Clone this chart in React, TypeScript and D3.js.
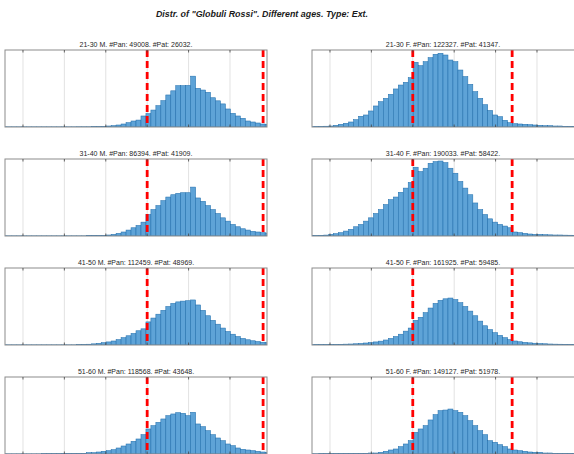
import React from 'react';
import * as d3 from 'd3';

// ---- data ----
const BIN_START = 2.745;
const BIN_WIDTH = 0.06;
const X_DOMAIN: [number, number] = [2.783, 5.947];
const GRID_TICKS = [3.0, 3.5, 4.0, 4.5, 5.0, 5.5];
const Y_MAX = 100;

const MAIN_TITLE = 'Distr. of "Globuli Rossi". Different ages. Type: Ext.';

const refMale = [4.5, 5.9];
const refFemale = [4.0, 5.2];

const titles = [
  '21-30 M. #Pan: 49008. #Pat: 26032.',
  '21-30 F. #Pan: 122327. #Pat: 41347.',
  '31-40 M. #Pan: 86394. #Pat: 41909.',
  '31-40 F. #Pan: 190033. #Pat: 58422.',
  '41-50 M. #Pan: 112459. #Pat: 48969.',
  '41-50 F. #Pan: 161925. #Pat: 59485.',
  '51-60 M. #Pan: 118568. #Pat: 43648.',
  '51-60 F. #Pan: 149127. #Pat: 51978.',
];

const m2130 = [0.2,0.2,0.2,0.2,0.2,0.2,0.2,0.2,0.2,0.2,0.2,0.2,0.2,0.2,0.2,0.3,0.3,0.3,0.5,0.5,0.8,
  1.3,1.7,2.6,3.9,5.6,7.8,9.0,14.3,
  17.3,22,27.7,34.2,41.6,47,53.7,53.7,54,66,
  50.2,48,45,38,34,30,23.4,17.7,14.3,11.3,7.8,6.5,5.2,3.9,3.5,3.0];

const f2130 = [0.3,0.4,0.6,1.0,
  1.3,2.2,3.5,4.8,6.5,9.5,13.9,15.6,20.8,27.3,32.9,37.2,42.4,49.4,54.5,58,64,
  84,79.7,84.8,90,94.4,95.7,93.5,87,84.8,74,
  65.4,55.4,45.9,37.2,29,21.5,15.6,13.4,8.7,5.6,
  4.3,3.9,3.5,3,2.6,2.2,1.7,1.7,1.3,1.3,
  0.9,0.9,0.8,0.6];

const m3140 = [0.2,0.2,0.2,0.2,0.2,0.2,0.2,0.2,0.2,0.2,0.2,0.2,0.2,0.2,0.2,0.2,0.2,
  0.9,0.9,0.9,0.9,
  1.3,2.1,3.4,5.2,7.7,10.7,13.7,18,
  27.9,34.3,39.5,45.9,50.6,53.6,55.4,56.2,56.2,63.5,
  49.4,45,39.5,34.3,29.2,23.6,19.3,15,12,9.4,7.7,6,5.2,4.3,3.8,3.4];

const f3140 = [0.5,0.6,0.8,1.2,
  2.1,3,4.3,6.4,8.6,12,15,19.3,23.6,29.2,34.3,40.8,47.2,50.6,56.7,62.2,69.5,
  89.3,83.7,88,94.4,96.6,97.4,95.3,88,81.5,70.8,
  62.2,53.6,42.9,34.3,27.9,22.3,18,15,12.9,10.7,
  5.2,4.3,3.4,2.6,2.1,2.1,1.7,1.5,1.3,1.3,
  1.1,1.0,0.9,0.8];

const m4150 = [0.2,0.2,0.2,0.2,0.2,0.2,0.2,0.2,0.2,0.2,0.2,0.2,0.2,0.2,0.2,
  0.4,0.6,1.0,1.5,2.2,3.0,
  4.0,5.2,7.0,9.5,12,15,18.5,21,
  30,35,40,45,50,54,56,57,57.5,58.5,
  52,45,38,32,27,22,17.5,14,11,8.5,6.8,5.5,4.5,3.6,3.0,2.6];

const f4150 = [0.3,0.4,0.5,0.6,0.7,0.8,
  0.9,1.1,1.3,1.6,2,2.6,3.2,4.0,5.0,6.5,8.5,11,14,18,22,
  32,36,42,48,54,58,60,61,59,55,
  50,44,38,31,25,20,16,12.5,9.5,7,
  5.2,4.2,3.4,2.8,2.3,1.9,1.6,1.3,1.1,1,
  0.9,0.8,0.7,0.7];

const m5160 = [0.2,0.2,0.2,0.2,0.2,0.2,0.2,0.2,
  0.4,0.4,0.4,0.4,0.9,0.9,0.9,0.9,0.9,
  1.7,1.7,2.6,3.5,
  4.3,5.6,7.8,10.4,13,16.5,19.5,25.1,
  32.5,36.8,41.1,45.5,49.8,52,53.7,52.8,49.8,54.1,
  39,35.5,30.3,25.1,20.8,17.3,13,10.8,7.8,6.1,5.2,4.3,3.5,2.6,2.2,2.0];

const f5160 = [0.3,0.3,0.4,0.5,0.6,0.7,0.8,
  0.9,0.9,0.9,0.9,0.9,1.3,1.3,2.2,3.5,5.2,6.5,9.5,13,17.3,
  28.1,32.5,36.8,44.2,51.1,56.3,57.1,58.4,56.3,54.1,
  49.8,43.3,36.8,30.3,25.1,17.3,15.2,12.1,9.5,6.5,
  5.2,4.3,3.5,2.6,2.2,2.2,1.3,1.3,0.9,0.9,
  0.8,0.8,0.7,0.7];

const panelCounts = [m2130, f2130, m3140, f3140, m4150, f4150, m5160, f5160];
const panelRanges = [refMale, refFemale, refMale, refFemale, refMale, refFemale, refMale, refFemale];

// ---- layout ----
const W = 574;
const H = 454;
const COL_X = [5, 312];
const FRAME_W = 262;
const ROW_TOP0 = 50;
const ROW_STEP = 109;
const FRAME_H = 77;

const xScale = d3.scaleLinear().domain(X_DOMAIN).range([0, FRAME_W]);
const yScale = d3.scaleLinear().domain([0, Y_MAX]).range([FRAME_H, 0]);

function Panel({ idx }: { idx: number }) {
  const col = idx % 2;
  const row = Math.floor(idx / 2);
  const x0 = COL_X[col];
  const y0 = ROW_TOP0 + row * ROW_STEP;
  const counts = panelCounts[idx];
  const range = panelRanges[idx];
  const frameW = col === 1 ? FRAME_W + 2 : FRAME_W;
  const clipId = `clip-${idx}`;
  return (
    <g transform={`translate(${x0},${y0})`}>
      <defs>
        <clipPath id={clipId}>
          <rect x={0} y={0} width={frameW} height={FRAME_H} />
        </clipPath>
      </defs>
      <text x={FRAME_W / 2} y={-2.6} textAnchor="middle" fontSize={7.0} fill="#262626">
        {titles[idx]}
      </text>
      <g clipPath={`url(#${clipId})`}>
        {GRID_TICKS.map((t) => (
          <line key={t} x1={xScale(t)} x2={xScale(t)} y1={0} y2={FRAME_H} stroke="#e2e2e2" strokeWidth={1} />
        ))}
        {counts.map((v, i) => {
          const a = BIN_START + i * BIN_WIDTH;
          const b = a + BIN_WIDTH;
          const xa = xScale(a);
          const xb = xScale(b);
          const yv = yScale(v);
          return (
            <rect key={i} x={xa} width={xb - xa} y={yv} height={FRAME_H - yv}
              fill="#5ea3d7" stroke="#2470ae" strokeWidth={0.55} />
          );
        })}
        {range.map((r) => (
          <line key={r} x1={xScale(r)} x2={xScale(r)} y1={0} y2={FRAME_H}
            stroke="#ff0000" strokeWidth={2.8} strokeDasharray="7,4" />
        ))}
      </g>
      <rect x={0} y={0} width={frameW} height={FRAME_H} fill="none" stroke="#8c8c8c" strokeWidth={1} />
      {GRID_TICKS.map((t) => (
        <g key={t}>
          <line x1={xScale(t)} x2={xScale(t)} y1={0} y2={2.5} stroke="#444" strokeWidth={0.8} />
          <line x1={xScale(t)} x2={xScale(t)} y1={FRAME_H - 2.5} y2={FRAME_H} stroke="#444" strokeWidth={0.8} />
        </g>
      ))}
    </g>
  );
}

export default function App() {
  return (
    <svg width={W} height={H} style={{ position: 'absolute', left: 0, top: 0, background: '#fff' }}
      fontFamily="'Liberation Sans', Arial, sans-serif">
      <rect x={0} y={0} width={W} height={H} fill="#fff" />
      <text x={262} y={17} textAnchor="middle" fontSize={8.9} fontWeight="bold" fontStyle="italic" fill="#1a1a1a">
        {MAIN_TITLE}
      </text>
      {panelCounts.map((_, i) => (
        <Panel key={i} idx={i} />
      ))}
    </svg>
  );
}
